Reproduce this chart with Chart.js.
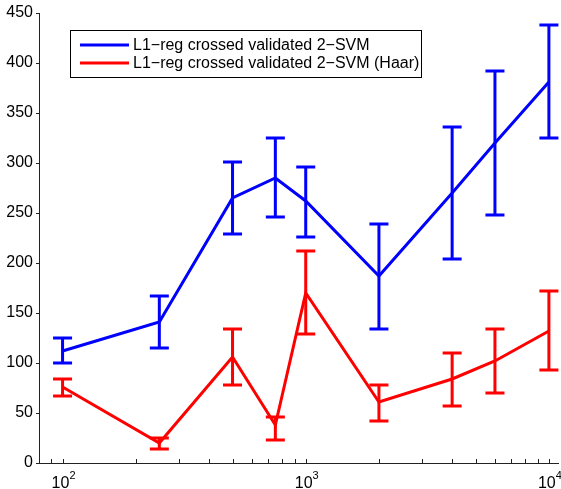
<!DOCTYPE html>
<html>
<head>
<meta charset="utf-8">
<script src="https://cdn.jsdelivr.net/npm/chart.js@4.4.0/dist/chart.umd.min.js"></script>
<style>
  html, body { margin: 0; padding: 0; background: #fff; }
  #wrap { width: 561px; height: 489px; }
</style>
</head>
<body>
<div id="wrap"><canvas id="errChart" width="561" height="489"></canvas></div>
<script>
// sample sizes on the log x axis
const sizes = [100, 250, 500, 750, 1000, 2000, 4000, 6000, 10000];

// L1-reg crossed validated 2-SVM
const svmMean = [112, 141, 265, 285, 262, 187, 270, 320, 381];
const svmLow  = [100, 115, 229, 246, 226, 134, 204, 248, 325];
const svmHigh = [125, 167, 301, 325, 296, 239, 336, 392, 438];

// L1-reg crossed validated 2-SVM (Haar)
const haarMean = [76, 20, 106, 38, 170, 61, 84, 102, 132];
const haarLow  = [67, 14, 78, 23, 129, 42, 57, 70, 93];
const haarHigh = [84, 25, 134, 46, 212, 78, 110, 134, 172];

const seriesLabels = ['L1\u2212reg crossed validated 2\u2212SVM', 'L1\u2212reg crossed validated 2\u2212SVM (Haar)'];

// log axis ticks (majors get a 10^n label)
const xTicks = [90, 100, 200, 300, 400, 500, 600, 700, 800, 900, 1000,
  2000, 3000, 4000, 5000, 6000, 7000, 8000, 9000, 10000];
const yTicks = [0, 50, 100, 150, 200, 250, 300, 350, 400, 450];

const FONT = '"Liberation Sans", Arial, Helvetica, sans-serif';

function pts(ys) {
  return sizes.map((x, i) => ({ x: x, y: ys[i] }));
}

// error bars drawn through the chart scales
const errorBars = {
  id: 'errorBars',
  afterDatasetsDraw(chart) {
    const ctx = chart.ctx;
    const xs = chart.scales.x, ys = chart.scales.y;
    chart.data.datasets.forEach((ds) => {
      ctx.save();
      ctx.strokeStyle = ds.borderColor;
      ctx.lineWidth = 3;
      ctx.lineCap = 'butt';
      sizes.forEach((x, i) => {
        const px = xs.getPixelForValue(x);
        const lo = ys.getPixelForValue(ds.errLow[i]);
        const hi = ys.getPixelForValue(ds.errHigh[i]);
        ctx.beginPath();
        ctx.moveTo(px, lo); ctx.lineTo(px, hi);
        ctx.moveTo(px - 9.5, lo); ctx.lineTo(px + 9.5, lo);
        ctx.moveTo(px - 9.5, hi); ctx.lineTo(px + 9.5, hi);
        ctx.stroke();
      });
      ctx.restore();
    });
  }
};

// matlab-like tick marks, 10^n labels and boxed legend
const axisDecor = {
  id: 'axisDecor',
  afterDraw(chart) {
    const ctx = chart.ctx;
    const xs = chart.scales.x, ys = chart.scales.y;
    const area = chart.chartArea;
    ctx.save();
    ctx.strokeStyle = '#222';
    ctx.lineWidth = 1;
    ctx.beginPath();
    xs.ticks.forEach((t) => {
      const px = Math.round(xs.getPixelForValue(t.value)) + 0.5;
      ctx.moveTo(px, area.bottom);
      ctx.lineTo(px, area.bottom - 4);
    });
    ys.ticks.forEach((t) => {
      const py = Math.round(ys.getPixelForValue(t.value)) + 0.5;
      ctx.moveTo(area.left, py);
      ctx.lineTo(area.left - 3, py);
    });
    ctx.stroke();

    // x labels as 10 with a raised exponent
    ctx.fillStyle = '#000';
    ctx.textBaseline = 'alphabetic';
    xs.ticks.forEach((t) => {
      const e = Math.log10(t.value);
      if (Math.abs(e - Math.round(e)) > 1e-9) return;
      const exp = String(Math.round(e));
      ctx.font = '16px ' + FONT;
      const wBase = ctx.measureText('10').width;
      ctx.font = '11px ' + FONT;
      const wExp = ctx.measureText(exp).width;
      const left = xs.getPixelForValue(t.value) - (wBase + wExp) / 2 + 1;
      ctx.font = '16px ' + FONT;
      ctx.textAlign = 'left';
      ctx.fillText('10', left, area.bottom + 25);
      ctx.font = '11px ' + FONT;
      ctx.fillText(exp, left + wBase, area.bottom + 16);
    });

    // legend
    const bx = 70.5, by = 30.5, bw = 351, bh = 47;
    ctx.fillStyle = '#fff';
    ctx.fillRect(bx, by, bw, bh);
    ctx.strokeStyle = '#000';
    ctx.strokeRect(bx, by, bw, bh);
    ctx.font = '16px ' + FONT;
    ctx.textBaseline = 'middle';
    ctx.textAlign = 'left';
    chart.data.datasets.forEach((ds, i) => {
      const y = 45 + i * 18;
      ctx.strokeStyle = ds.borderColor;
      ctx.lineWidth = 3;
      ctx.beginPath();
      ctx.moveTo(80, y); ctx.lineTo(129, y);
      ctx.stroke();
      ctx.fillStyle = '#000';
      ctx.fillText(ds.label, 133, y + 1);
    });
    ctx.restore();
  }
};

new Chart(document.getElementById('errChart'), {
  type: 'line',
  data: {
    datasets: [
      {
        label: seriesLabels[0],
        data: pts(svmMean),
        errLow: svmLow,
        errHigh: svmHigh,
        borderColor: '#0000ff',
        borderWidth: 3,
        pointRadius: 0,
        tension: 0
      },
      {
        label: seriesLabels[1],
        data: pts(haarMean),
        errLow: haarLow,
        errHigh: haarHigh,
        borderColor: '#ff0000',
        borderWidth: 3,
        pointRadius: 0,
        tension: 0
      }
    ]
  },
  options: {
    responsive: false,
    animation: false,
    layout: { padding: { top: 13, right: 3, left: 0, bottom: 0 } },
    plugins: {
      legend: { display: false },
      tooltip: { enabled: false }
    },
    scales: {
      x: {
        type: 'logarithmic',
        min: 80,
        max: 10900,
        afterBuildTicks: (scale) => {
          scale.ticks = xTicks.map((v) => ({ value: v }));
        },
        afterFit: (scale) => {
          scale.height = 26;
          scale.paddingLeft = 0;
          scale.paddingRight = 0;
        },
        grid: { display: false, drawTicks: false },
        border: { display: true, color: '#222', width: 1 },
        ticks: { display: false, autoSkip: false, maxRotation: 0 }
      },
      y: {
        min: 0,
        max: 450,
        afterBuildTicks: (scale) => {
          scale.ticks = yTicks.map((v) => ({ value: v }));
        },
        afterFit: (scale) => {
          scale.width = 39;
          scale.paddingTop = 0;
          scale.paddingBottom = 0;
        },
        grid: { display: false, drawTicks: false },
        border: { display: true, color: '#222', width: 1 },
        ticks: {
          padding: 6,
          color: '#000',
          font: { family: FONT, size: 16 }
        }
      }
    }
  },
  plugins: [errorBars, axisDecor]
});
</script>
</body>
</html>
